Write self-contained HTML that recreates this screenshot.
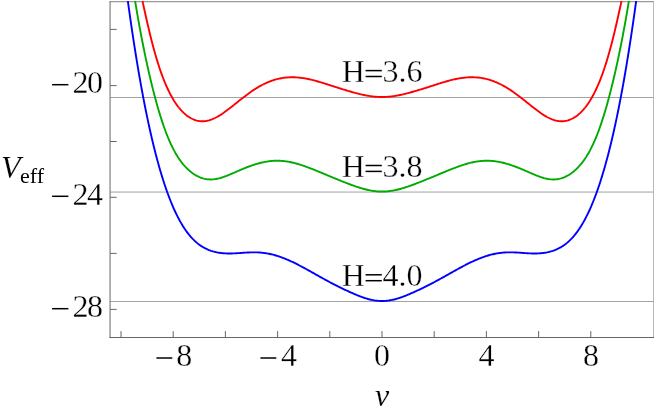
<!DOCTYPE html>
<html><head><meta charset="utf-8"><title>Veff</title>
<style>
html,body{margin:0;padding:0;background:#fff;}
body{width:654px;height:414px;overflow:hidden;position:relative;font-family:"Liberation Serif",serif;}
svg{position:absolute;left:0;top:0;will-change:transform;}
text{font-family:"Liberation Serif",serif;fill:#000;stroke:#fff;stroke-width:0.3px;}
</style></head><body>
<svg width="654" height="414" viewBox="0 0 654 414">
<defs><clipPath id="c"><rect x="110" y="1" width="544" height="337"/></clipPath></defs>
<g stroke="#a3a3a3" stroke-width="1" fill="none">
<line x1="110.05" y1="97.5" x2="654" y2="97.5"/>
<line x1="110.05" y1="192.05" x2="654" y2="192.05"/>
<line x1="110.05" y1="301.5" x2="654" y2="301.5"/>
</g>
<g stroke="#999" stroke-width="1.2" fill="none">
<line x1="110.05" y1="1.6" x2="654" y2="1.6"/>
</g>
<line x1="653.6" y1="1.6" x2="653.6" y2="337.5" stroke="#b2b2b2" stroke-width="1" fill="none"/>
<g clip-path="url(#c)" fill="none" stroke-width="1.9" stroke-linejoin="round">
<path stroke="#ff0000" d="M139.0,-15.20 L140.0,-10.57 L141.0,-5.91 L142.0,-1.25 L143.0,3.39 L144.0,8.00 L145.0,12.56 L146.0,17.06 L147.0,21.48 L148.0,25.82 L149.0,30.07 L150.0,34.22 L151.0,38.27 L152.0,42.20 L153.0,46.02 L154.0,49.72 L155.0,53.31 L156.0,56.77 L157.0,60.12 L158.0,63.34 L159.0,66.45 L160.0,69.44 L161.0,72.32 L162.0,75.09 L163.0,77.75 L164.0,80.31 L165.0,82.76 L166.0,85.11 L167.0,87.37 L168.0,89.52 L169.0,91.59 L170.0,93.57 L171.0,95.46 L172.0,97.27 L173.0,98.99 L174.0,100.64 L175.0,102.20 L176.0,103.69 L177.0,105.11 L178.0,106.46 L179.0,107.74 L180.0,108.95 L181.0,110.09 L182.0,111.17 L183.0,112.19 L184.0,113.14 L185.0,114.04 L186.0,114.88 L187.0,115.66 L188.0,116.39 L189.0,117.06 L190.0,117.68 L191.0,118.25 L192.0,118.76 L193.0,119.23 L194.0,119.64 L195.0,120.01 L196.0,120.32 L197.0,120.59 L198.0,120.82 L199.0,120.99 L200.0,121.12 L201.0,121.20 L202.0,121.24 L203.0,121.24 L204.0,121.19 L205.0,121.10 L206.0,120.96 L207.0,120.79 L208.0,120.57 L209.0,120.32 L210.0,120.02 L211.0,119.69 L212.0,119.32 L213.0,118.92 L214.0,118.48 L215.0,118.01 L216.0,117.51 L217.0,116.98 L218.0,116.42 L219.0,115.83 L220.0,115.22 L221.0,114.59 L222.0,113.93 L223.0,113.25 L224.0,112.55 L225.0,111.83 L226.0,111.10 L227.0,110.36 L228.0,109.60 L229.0,108.83 L230.0,108.05 L231.0,107.27 L232.0,106.47 L233.0,105.67 L234.0,104.87 L235.0,104.07 L236.0,103.26 L237.0,102.46 L238.0,101.66 L239.0,100.85 L240.0,100.06 L241.0,99.26 L242.0,98.48 L243.0,97.69 L244.0,96.92 L245.0,96.16 L246.0,95.40 L247.0,94.65 L248.0,93.92 L249.0,93.19 L250.0,92.48 L251.0,91.78 L252.0,91.09 L253.0,90.41 L254.0,89.75 L255.0,89.11 L256.0,88.48 L257.0,87.86 L258.0,87.26 L259.0,86.68 L260.0,86.11 L261.0,85.56 L262.0,85.03 L263.0,84.51 L264.0,84.01 L265.0,83.53 L266.0,83.06 L267.0,82.62 L268.0,82.19 L269.0,81.78 L270.0,81.39 L271.0,81.01 L272.0,80.66 L273.0,80.32 L274.0,80.00 L275.0,79.70 L276.0,79.41 L277.0,79.15 L278.0,78.90 L279.0,78.67 L280.0,78.46 L281.0,78.26 L282.0,78.09 L283.0,77.93 L284.0,77.79 L285.0,77.66 L286.0,77.55 L287.0,77.46 L288.0,77.39 L289.0,77.33 L290.0,77.29 L291.0,77.26 L292.0,77.25 L293.0,77.25 L294.0,77.27 L295.0,77.31 L296.0,77.36 L297.0,77.42 L298.0,77.50 L299.0,77.60 L300.0,77.70 L301.0,77.82 L302.0,77.96 L303.0,78.10 L304.0,78.26 L305.0,78.43 L306.0,78.61 L307.0,78.80 L308.0,79.00 L309.0,79.22 L310.0,79.44 L311.0,79.67 L312.0,79.91 L313.0,80.16 L314.0,80.42 L315.0,80.68 L316.0,80.96 L317.0,81.23 L318.0,81.52 L319.0,81.81 L320.0,82.10 L321.0,82.40 L322.0,82.70 L323.0,83.01 L324.0,83.32 L325.0,83.63 L326.0,83.95 L327.0,84.27 L328.0,84.58 L329.0,84.90 L330.0,85.23 L331.0,85.55 L332.0,85.87 L333.0,86.19 L334.0,86.51 L335.0,86.83 L336.0,87.15 L337.0,87.47 L338.0,87.78 L339.0,88.10 L340.0,88.41 L341.0,88.73 L342.0,89.04 L343.0,89.34 L344.0,89.65 L345.0,89.96 L346.0,90.26 L347.0,90.56 L348.0,90.85 L349.0,91.15 L350.0,91.44 L351.0,91.72 L352.0,92.01 L353.0,92.29 L354.0,92.56 L355.0,92.83 L356.0,93.10 L357.0,93.36 L358.0,93.61 L359.0,93.86 L360.0,94.11 L361.0,94.34 L362.0,94.57 L363.0,94.79 L364.0,95.01 L365.0,95.21 L366.0,95.41 L367.0,95.59 L368.0,95.77 L369.0,95.93 L370.0,96.09 L371.0,96.23 L372.0,96.37 L373.0,96.49 L374.0,96.59 L375.0,96.69 L376.0,96.78 L377.0,96.85 L378.0,96.91 L379.0,96.95 L380.0,96.98 L381.0,97.00 L382.0,97.01 L383.0,97.00 L384.0,96.98 L385.0,96.95 L386.0,96.91 L387.0,96.85 L388.0,96.78 L389.0,96.69 L390.0,96.59 L391.0,96.49 L392.0,96.37 L393.0,96.23 L394.0,96.09 L395.0,95.93 L396.0,95.77 L397.0,95.59 L398.0,95.41 L399.0,95.21 L400.0,95.01 L401.0,94.79 L402.0,94.57 L403.0,94.34 L404.0,94.11 L405.0,93.86 L406.0,93.61 L407.0,93.36 L408.0,93.10 L409.0,92.83 L410.0,92.56 L411.0,92.29 L412.0,92.01 L413.0,91.72 L414.0,91.44 L415.0,91.15 L416.0,90.85 L417.0,90.56 L418.0,90.26 L419.0,89.96 L420.0,89.65 L421.0,89.34 L422.0,89.04 L423.0,88.73 L424.0,88.41 L425.0,88.10 L426.0,87.78 L427.0,87.47 L428.0,87.15 L429.0,86.83 L430.0,86.51 L431.0,86.19 L432.0,85.87 L433.0,85.55 L434.0,85.23 L435.0,84.90 L436.0,84.58 L437.0,84.27 L438.0,83.95 L439.0,83.63 L440.0,83.32 L441.0,83.01 L442.0,82.70 L443.0,82.40 L444.0,82.10 L445.0,81.81 L446.0,81.52 L447.0,81.23 L448.0,80.96 L449.0,80.68 L450.0,80.42 L451.0,80.16 L452.0,79.91 L453.0,79.67 L454.0,79.44 L455.0,79.22 L456.0,79.00 L457.0,78.80 L458.0,78.61 L459.0,78.43 L460.0,78.26 L461.0,78.10 L462.0,77.96 L463.0,77.82 L464.0,77.70 L465.0,77.60 L466.0,77.50 L467.0,77.42 L468.0,77.36 L469.0,77.31 L470.0,77.27 L471.0,77.25 L472.0,77.25 L473.0,77.26 L474.0,77.29 L475.0,77.33 L476.0,77.39 L477.0,77.46 L478.0,77.55 L479.0,77.66 L480.0,77.79 L481.0,77.93 L482.0,78.09 L483.0,78.26 L484.0,78.46 L485.0,78.67 L486.0,78.90 L487.0,79.15 L488.0,79.41 L489.0,79.70 L490.0,80.00 L491.0,80.32 L492.0,80.66 L493.0,81.01 L494.0,81.39 L495.0,81.78 L496.0,82.19 L497.0,82.62 L498.0,83.06 L499.0,83.53 L500.0,84.01 L501.0,84.51 L502.0,85.03 L503.0,85.56 L504.0,86.11 L505.0,86.68 L506.0,87.26 L507.0,87.86 L508.0,88.48 L509.0,89.11 L510.0,89.75 L511.0,90.41 L512.0,91.09 L513.0,91.78 L514.0,92.48 L515.0,93.19 L516.0,93.92 L517.0,94.65 L518.0,95.40 L519.0,96.16 L520.0,96.92 L521.0,97.69 L522.0,98.48 L523.0,99.26 L524.0,100.06 L525.0,100.85 L526.0,101.66 L527.0,102.46 L528.0,103.26 L529.0,104.07 L530.0,104.87 L531.0,105.67 L532.0,106.47 L533.0,107.27 L534.0,108.05 L535.0,108.83 L536.0,109.60 L537.0,110.36 L538.0,111.10 L539.0,111.83 L540.0,112.55 L541.0,113.25 L542.0,113.93 L543.0,114.59 L544.0,115.22 L545.0,115.83 L546.0,116.42 L547.0,116.98 L548.0,117.51 L549.0,118.01 L550.0,118.48 L551.0,118.92 L552.0,119.32 L553.0,119.69 L554.0,120.02 L555.0,120.32 L556.0,120.57 L557.0,120.79 L558.0,120.96 L559.0,121.10 L560.0,121.19 L561.0,121.24 L562.0,121.24 L563.0,121.20 L564.0,121.12 L565.0,120.99 L566.0,120.82 L567.0,120.59 L568.0,120.32 L569.0,120.01 L570.0,119.64 L571.0,119.23 L572.0,118.76 L573.0,118.25 L574.0,117.68 L575.0,117.06 L576.0,116.39 L577.0,115.66 L578.0,114.88 L579.0,114.04 L580.0,113.14 L581.0,112.19 L582.0,111.17 L583.0,110.09 L584.0,108.95 L585.0,107.74 L586.0,106.46 L587.0,105.11 L588.0,103.69 L589.0,102.20 L590.0,100.64 L591.0,98.99 L592.0,97.27 L593.0,95.46 L594.0,93.57 L595.0,91.59 L596.0,89.52 L597.0,87.37 L598.0,85.11 L599.0,82.76 L600.0,80.31 L601.0,77.75 L602.0,75.09 L603.0,72.32 L604.0,69.44 L605.0,66.45 L606.0,63.34 L607.0,60.12 L608.0,56.77 L609.0,53.31 L610.0,49.72 L611.0,46.02 L612.0,42.20 L613.0,38.27 L614.0,34.22 L615.0,30.07 L616.0,25.82 L617.0,21.48 L618.0,17.06 L619.0,12.56 L620.0,8.00 L621.0,3.39 L622.0,-1.25 L623.0,-5.91 L624.0,-10.57 L625.0,-15.20"/>
<path stroke="#00aa00" d="M132.0,-18.95 L133.0,-12.31 L134.0,-5.86 L135.0,0.39 L136.0,6.46 L137.0,12.37 L138.0,18.12 L139.0,23.72 L140.0,29.18 L141.0,34.51 L142.0,39.71 L143.0,44.79 L144.0,49.75 L145.0,54.61 L146.0,59.35 L147.0,63.98 L148.0,68.51 L149.0,72.94 L150.0,77.26 L151.0,81.48 L152.0,85.60 L153.0,89.62 L154.0,93.54 L155.0,97.36 L156.0,101.07 L157.0,104.68 L158.0,108.18 L159.0,111.59 L160.0,114.88 L161.0,118.07 L162.0,121.16 L163.0,124.14 L164.0,127.02 L165.0,129.80 L166.0,132.47 L167.0,135.04 L168.0,137.51 L169.0,139.88 L170.0,142.15 L171.0,144.34 L172.0,146.42 L173.0,148.42 L174.0,150.34 L175.0,152.16 L176.0,153.91 L177.0,155.58 L178.0,157.17 L179.0,158.68 L180.0,160.13 L181.0,161.50 L182.0,162.81 L183.0,164.06 L184.0,165.24 L185.0,166.37 L186.0,167.44 L187.0,168.46 L188.0,169.42 L189.0,170.33 L190.0,171.20 L191.0,172.01 L192.0,172.78 L193.0,173.51 L194.0,174.18 L195.0,174.82 L196.0,175.41 L197.0,175.96 L198.0,176.47 L199.0,176.93 L200.0,177.36 L201.0,177.74 L202.0,178.08 L203.0,178.39 L204.0,178.65 L205.0,178.88 L206.0,179.06 L207.0,179.21 L208.0,179.32 L209.0,179.40 L210.0,179.44 L211.0,179.44 L212.0,179.41 L213.0,179.34 L214.0,179.25 L215.0,179.12 L216.0,178.96 L217.0,178.77 L218.0,178.56 L219.0,178.32 L220.0,178.06 L221.0,177.77 L222.0,177.47 L223.0,177.14 L224.0,176.80 L225.0,176.44 L226.0,176.07 L227.0,175.68 L228.0,175.29 L229.0,174.88 L230.0,174.46 L231.0,174.04 L232.0,173.61 L233.0,173.18 L234.0,172.75 L235.0,172.31 L236.0,171.87 L237.0,171.44 L238.0,171.00 L239.0,170.57 L240.0,170.14 L241.0,169.71 L242.0,169.29 L243.0,168.87 L244.0,168.46 L245.0,168.05 L246.0,167.65 L247.0,167.26 L248.0,166.88 L249.0,166.50 L250.0,166.13 L251.0,165.78 L252.0,165.43 L253.0,165.09 L254.0,164.76 L255.0,164.44 L256.0,164.14 L257.0,163.84 L258.0,163.56 L259.0,163.29 L260.0,163.02 L261.0,162.78 L262.0,162.54 L263.0,162.32 L264.0,162.11 L265.0,161.92 L266.0,161.74 L267.0,161.57 L268.0,161.42 L269.0,161.28 L270.0,161.16 L271.0,161.05 L272.0,160.96 L273.0,160.88 L274.0,160.82 L275.0,160.78 L276.0,160.75 L277.0,160.74 L278.0,160.75 L279.0,160.77 L280.0,160.80 L281.0,160.86 L282.0,160.93 L283.0,161.01 L284.0,161.11 L285.0,161.23 L286.0,161.36 L287.0,161.51 L288.0,161.67 L289.0,161.85 L290.0,162.04 L291.0,162.25 L292.0,162.47 L293.0,162.70 L294.0,162.94 L295.0,163.20 L296.0,163.46 L297.0,163.74 L298.0,164.03 L299.0,164.33 L300.0,164.64 L301.0,164.96 L302.0,165.29 L303.0,165.62 L304.0,165.97 L305.0,166.32 L306.0,166.68 L307.0,167.04 L308.0,167.41 L309.0,167.79 L310.0,168.17 L311.0,168.55 L312.0,168.94 L313.0,169.33 L314.0,169.73 L315.0,170.13 L316.0,170.54 L317.0,170.94 L318.0,171.35 L319.0,171.76 L320.0,172.17 L321.0,172.59 L322.0,173.00 L323.0,173.42 L324.0,173.83 L325.0,174.25 L326.0,174.67 L327.0,175.09 L328.0,175.51 L329.0,175.92 L330.0,176.34 L331.0,176.76 L332.0,177.18 L333.0,177.59 L334.0,178.01 L335.0,178.42 L336.0,178.83 L337.0,179.24 L338.0,179.65 L339.0,180.06 L340.0,180.46 L341.0,180.87 L342.0,181.27 L343.0,181.67 L344.0,182.06 L345.0,182.46 L346.0,182.85 L347.0,183.23 L348.0,183.62 L349.0,184.00 L350.0,184.37 L351.0,184.75 L352.0,185.11 L353.0,185.48 L354.0,185.83 L355.0,186.18 L356.0,186.53 L357.0,186.86 L358.0,187.19 L359.0,187.52 L360.0,187.83 L361.0,188.14 L362.0,188.43 L363.0,188.72 L364.0,188.99 L365.0,189.25 L366.0,189.50 L367.0,189.74 L368.0,189.97 L369.0,190.18 L370.0,190.38 L371.0,190.57 L372.0,190.74 L373.0,190.89 L374.0,191.03 L375.0,191.15 L376.0,191.26 L377.0,191.35 L378.0,191.43 L379.0,191.49 L380.0,191.53 L381.0,191.55 L382.0,191.56 L383.0,191.55 L384.0,191.53 L385.0,191.49 L386.0,191.43 L387.0,191.35 L388.0,191.26 L389.0,191.15 L390.0,191.03 L391.0,190.89 L392.0,190.74 L393.0,190.57 L394.0,190.38 L395.0,190.18 L396.0,189.97 L397.0,189.74 L398.0,189.50 L399.0,189.25 L400.0,188.99 L401.0,188.72 L402.0,188.43 L403.0,188.14 L404.0,187.83 L405.0,187.52 L406.0,187.19 L407.0,186.86 L408.0,186.53 L409.0,186.18 L410.0,185.83 L411.0,185.48 L412.0,185.11 L413.0,184.75 L414.0,184.37 L415.0,184.00 L416.0,183.62 L417.0,183.23 L418.0,182.85 L419.0,182.46 L420.0,182.06 L421.0,181.67 L422.0,181.27 L423.0,180.87 L424.0,180.46 L425.0,180.06 L426.0,179.65 L427.0,179.24 L428.0,178.83 L429.0,178.42 L430.0,178.01 L431.0,177.59 L432.0,177.18 L433.0,176.76 L434.0,176.34 L435.0,175.92 L436.0,175.51 L437.0,175.09 L438.0,174.67 L439.0,174.25 L440.0,173.83 L441.0,173.42 L442.0,173.00 L443.0,172.59 L444.0,172.17 L445.0,171.76 L446.0,171.35 L447.0,170.94 L448.0,170.54 L449.0,170.13 L450.0,169.73 L451.0,169.33 L452.0,168.94 L453.0,168.55 L454.0,168.17 L455.0,167.79 L456.0,167.41 L457.0,167.04 L458.0,166.68 L459.0,166.32 L460.0,165.97 L461.0,165.62 L462.0,165.29 L463.0,164.96 L464.0,164.64 L465.0,164.33 L466.0,164.03 L467.0,163.74 L468.0,163.46 L469.0,163.20 L470.0,162.94 L471.0,162.70 L472.0,162.47 L473.0,162.25 L474.0,162.04 L475.0,161.85 L476.0,161.67 L477.0,161.51 L478.0,161.36 L479.0,161.23 L480.0,161.11 L481.0,161.01 L482.0,160.93 L483.0,160.86 L484.0,160.80 L485.0,160.77 L486.0,160.75 L487.0,160.74 L488.0,160.75 L489.0,160.78 L490.0,160.82 L491.0,160.88 L492.0,160.96 L493.0,161.05 L494.0,161.16 L495.0,161.28 L496.0,161.42 L497.0,161.57 L498.0,161.74 L499.0,161.92 L500.0,162.11 L501.0,162.32 L502.0,162.54 L503.0,162.78 L504.0,163.02 L505.0,163.29 L506.0,163.56 L507.0,163.84 L508.0,164.14 L509.0,164.44 L510.0,164.76 L511.0,165.09 L512.0,165.43 L513.0,165.78 L514.0,166.13 L515.0,166.50 L516.0,166.88 L517.0,167.26 L518.0,167.65 L519.0,168.05 L520.0,168.46 L521.0,168.87 L522.0,169.29 L523.0,169.71 L524.0,170.14 L525.0,170.57 L526.0,171.00 L527.0,171.44 L528.0,171.87 L529.0,172.31 L530.0,172.75 L531.0,173.18 L532.0,173.61 L533.0,174.04 L534.0,174.46 L535.0,174.88 L536.0,175.29 L537.0,175.68 L538.0,176.07 L539.0,176.44 L540.0,176.80 L541.0,177.14 L542.0,177.47 L543.0,177.77 L544.0,178.06 L545.0,178.32 L546.0,178.56 L547.0,178.77 L548.0,178.96 L549.0,179.12 L550.0,179.25 L551.0,179.34 L552.0,179.41 L553.0,179.44 L554.0,179.44 L555.0,179.40 L556.0,179.32 L557.0,179.21 L558.0,179.06 L559.0,178.88 L560.0,178.65 L561.0,178.39 L562.0,178.08 L563.0,177.74 L564.0,177.36 L565.0,176.93 L566.0,176.47 L567.0,175.96 L568.0,175.41 L569.0,174.82 L570.0,174.18 L571.0,173.51 L572.0,172.78 L573.0,172.01 L574.0,171.20 L575.0,170.33 L576.0,169.42 L577.0,168.46 L578.0,167.44 L579.0,166.37 L580.0,165.24 L581.0,164.06 L582.0,162.81 L583.0,161.50 L584.0,160.13 L585.0,158.68 L586.0,157.17 L587.0,155.58 L588.0,153.91 L589.0,152.16 L590.0,150.34 L591.0,148.42 L592.0,146.42 L593.0,144.34 L594.0,142.15 L595.0,139.88 L596.0,137.51 L597.0,135.04 L598.0,132.47 L599.0,129.80 L600.0,127.02 L601.0,124.14 L602.0,121.16 L603.0,118.07 L604.0,114.88 L605.0,111.59 L606.0,108.18 L607.0,104.68 L608.0,101.07 L609.0,97.36 L610.0,93.54 L611.0,89.62 L612.0,85.60 L613.0,81.48 L614.0,77.26 L615.0,72.94 L616.0,68.51 L617.0,63.98 L618.0,59.35 L619.0,54.61 L620.0,49.75 L621.0,44.79 L622.0,39.71 L623.0,34.51 L624.0,29.18 L625.0,23.72 L626.0,18.12 L627.0,12.37 L628.0,6.46 L629.0,0.39 L630.0,-5.86 L631.0,-12.31 L632.0,-18.95"/>
<path stroke="#0000ff" d="M126.0,-12.86 L127.0,-5.31 L128.0,2.08 L129.0,9.32 L130.0,16.41 L131.0,23.37 L132.0,30.18 L133.0,36.84 L134.0,43.37 L135.0,49.76 L136.0,56.02 L137.0,62.14 L138.0,68.13 L139.0,73.98 L140.0,79.71 L141.0,85.31 L142.0,90.79 L143.0,96.14 L144.0,101.37 L145.0,106.47 L146.0,111.46 L147.0,116.33 L148.0,121.09 L149.0,125.73 L150.0,130.26 L151.0,134.67 L152.0,138.98 L153.0,143.18 L154.0,147.27 L155.0,151.26 L156.0,155.14 L157.0,158.93 L158.0,162.61 L159.0,166.19 L160.0,169.68 L161.0,173.07 L162.0,176.37 L163.0,179.57 L164.0,182.68 L165.0,185.70 L166.0,188.63 L167.0,191.48 L168.0,194.24 L169.0,196.91 L170.0,199.50 L171.0,202.01 L172.0,204.44 L173.0,206.78 L174.0,209.05 L175.0,211.25 L176.0,213.37 L177.0,215.41 L178.0,217.38 L179.0,219.28 L180.0,221.11 L181.0,222.88 L182.0,224.57 L183.0,226.20 L184.0,227.76 L185.0,229.26 L186.0,230.70 L187.0,232.08 L188.0,233.40 L189.0,234.67 L190.0,235.87 L191.0,237.02 L192.0,238.12 L193.0,239.17 L194.0,240.17 L195.0,241.11 L196.0,242.01 L197.0,242.87 L198.0,243.68 L199.0,244.45 L200.0,245.17 L201.0,245.86 L202.0,246.50 L203.0,247.11 L204.0,247.68 L205.0,248.22 L206.0,248.73 L207.0,249.20 L208.0,249.64 L209.0,250.05 L210.0,250.43 L211.0,250.79 L212.0,251.11 L213.0,251.42 L214.0,251.69 L215.0,251.95 L216.0,252.18 L217.0,252.39 L218.0,252.57 L219.0,252.74 L220.0,252.89 L221.0,253.02 L222.0,253.13 L223.0,253.23 L224.0,253.31 L225.0,253.37 L226.0,253.42 L227.0,253.45 L228.0,253.47 L229.0,253.48 L230.0,253.48 L231.0,253.47 L232.0,253.45 L233.0,253.41 L234.0,253.37 L235.0,253.33 L236.0,253.27 L237.0,253.21 L238.0,253.15 L239.0,253.09 L240.0,253.02 L241.0,252.95 L242.0,252.88 L243.0,252.81 L244.0,252.74 L245.0,252.67 L246.0,252.61 L247.0,252.55 L248.0,252.50 L249.0,252.45 L250.0,252.41 L251.0,252.38 L252.0,252.35 L253.0,252.34 L254.0,252.33 L255.0,252.34 L256.0,252.36 L257.0,252.38 L258.0,252.42 L259.0,252.48 L260.0,252.54 L261.0,252.62 L262.0,252.72 L263.0,252.83 L264.0,252.95 L265.0,253.08 L266.0,253.23 L267.0,253.40 L268.0,253.58 L269.0,253.77 L270.0,253.98 L271.0,254.20 L272.0,254.43 L273.0,254.68 L274.0,254.95 L275.0,255.22 L276.0,255.52 L277.0,255.82 L278.0,256.14 L279.0,256.46 L280.0,256.81 L281.0,257.16 L282.0,257.52 L283.0,257.90 L284.0,258.29 L285.0,258.69 L286.0,259.10 L287.0,259.51 L288.0,259.94 L289.0,260.38 L290.0,260.83 L291.0,261.29 L292.0,261.75 L293.0,262.22 L294.0,262.71 L295.0,263.19 L296.0,263.69 L297.0,264.19 L298.0,264.70 L299.0,265.22 L300.0,265.74 L301.0,266.27 L302.0,266.80 L303.0,267.33 L304.0,267.87 L305.0,268.42 L306.0,268.97 L307.0,269.52 L308.0,270.07 L309.0,270.63 L310.0,271.19 L311.0,271.75 L312.0,272.31 L313.0,272.87 L314.0,273.44 L315.0,274.00 L316.0,274.57 L317.0,275.13 L318.0,275.69 L319.0,276.25 L320.0,276.81 L321.0,277.37 L322.0,277.93 L323.0,278.48 L324.0,279.03 L325.0,279.58 L326.0,280.13 L327.0,280.67 L328.0,281.21 L329.0,281.74 L330.0,282.27 L331.0,282.80 L332.0,283.33 L333.0,283.85 L334.0,284.36 L335.0,284.87 L336.0,285.38 L337.0,285.88 L338.0,286.38 L339.0,286.88 L340.0,287.37 L341.0,287.86 L342.0,288.34 L343.0,288.83 L344.0,289.30 L345.0,289.78 L346.0,290.24 L347.0,290.71 L348.0,291.17 L349.0,291.63 L350.0,292.08 L351.0,292.53 L352.0,292.97 L353.0,293.41 L354.0,293.84 L355.0,294.27 L356.0,294.69 L357.0,295.10 L358.0,295.51 L359.0,295.91 L360.0,296.29 L361.0,296.67 L362.0,297.04 L363.0,297.39 L364.0,297.74 L365.0,298.06 L366.0,298.38 L367.0,298.68 L368.0,298.97 L369.0,299.23 L370.0,299.49 L371.0,299.72 L372.0,299.93 L373.0,300.13 L374.0,300.31 L375.0,300.47 L376.0,300.60 L377.0,300.72 L378.0,300.82 L379.0,300.89 L380.0,300.94 L381.0,300.98 L382.0,300.99 L383.0,300.98 L384.0,300.94 L385.0,300.89 L386.0,300.82 L387.0,300.72 L388.0,300.60 L389.0,300.47 L390.0,300.31 L391.0,300.13 L392.0,299.93 L393.0,299.72 L394.0,299.49 L395.0,299.23 L396.0,298.97 L397.0,298.68 L398.0,298.38 L399.0,298.06 L400.0,297.74 L401.0,297.39 L402.0,297.04 L403.0,296.67 L404.0,296.29 L405.0,295.91 L406.0,295.51 L407.0,295.10 L408.0,294.69 L409.0,294.27 L410.0,293.84 L411.0,293.41 L412.0,292.97 L413.0,292.53 L414.0,292.08 L415.0,291.63 L416.0,291.17 L417.0,290.71 L418.0,290.24 L419.0,289.78 L420.0,289.30 L421.0,288.83 L422.0,288.34 L423.0,287.86 L424.0,287.37 L425.0,286.88 L426.0,286.38 L427.0,285.88 L428.0,285.38 L429.0,284.87 L430.0,284.36 L431.0,283.85 L432.0,283.33 L433.0,282.80 L434.0,282.27 L435.0,281.74 L436.0,281.21 L437.0,280.67 L438.0,280.13 L439.0,279.58 L440.0,279.03 L441.0,278.48 L442.0,277.93 L443.0,277.37 L444.0,276.81 L445.0,276.25 L446.0,275.69 L447.0,275.13 L448.0,274.57 L449.0,274.00 L450.0,273.44 L451.0,272.87 L452.0,272.31 L453.0,271.75 L454.0,271.19 L455.0,270.63 L456.0,270.07 L457.0,269.52 L458.0,268.97 L459.0,268.42 L460.0,267.87 L461.0,267.33 L462.0,266.80 L463.0,266.27 L464.0,265.74 L465.0,265.22 L466.0,264.70 L467.0,264.19 L468.0,263.69 L469.0,263.19 L470.0,262.71 L471.0,262.22 L472.0,261.75 L473.0,261.29 L474.0,260.83 L475.0,260.38 L476.0,259.94 L477.0,259.51 L478.0,259.10 L479.0,258.69 L480.0,258.29 L481.0,257.90 L482.0,257.52 L483.0,257.16 L484.0,256.81 L485.0,256.46 L486.0,256.14 L487.0,255.82 L488.0,255.52 L489.0,255.22 L490.0,254.95 L491.0,254.68 L492.0,254.43 L493.0,254.20 L494.0,253.98 L495.0,253.77 L496.0,253.58 L497.0,253.40 L498.0,253.23 L499.0,253.08 L500.0,252.95 L501.0,252.83 L502.0,252.72 L503.0,252.62 L504.0,252.54 L505.0,252.48 L506.0,252.42 L507.0,252.38 L508.0,252.36 L509.0,252.34 L510.0,252.33 L511.0,252.34 L512.0,252.35 L513.0,252.38 L514.0,252.41 L515.0,252.45 L516.0,252.50 L517.0,252.55 L518.0,252.61 L519.0,252.67 L520.0,252.74 L521.0,252.81 L522.0,252.88 L523.0,252.95 L524.0,253.02 L525.0,253.09 L526.0,253.15 L527.0,253.21 L528.0,253.27 L529.0,253.33 L530.0,253.37 L531.0,253.41 L532.0,253.45 L533.0,253.47 L534.0,253.48 L535.0,253.48 L536.0,253.47 L537.0,253.45 L538.0,253.42 L539.0,253.37 L540.0,253.31 L541.0,253.23 L542.0,253.13 L543.0,253.02 L544.0,252.89 L545.0,252.74 L546.0,252.57 L547.0,252.39 L548.0,252.18 L549.0,251.95 L550.0,251.69 L551.0,251.42 L552.0,251.11 L553.0,250.79 L554.0,250.43 L555.0,250.05 L556.0,249.64 L557.0,249.20 L558.0,248.73 L559.0,248.22 L560.0,247.68 L561.0,247.11 L562.0,246.50 L563.0,245.86 L564.0,245.17 L565.0,244.45 L566.0,243.68 L567.0,242.87 L568.0,242.01 L569.0,241.11 L570.0,240.17 L571.0,239.17 L572.0,238.12 L573.0,237.02 L574.0,235.87 L575.0,234.67 L576.0,233.40 L577.0,232.08 L578.0,230.70 L579.0,229.26 L580.0,227.76 L581.0,226.20 L582.0,224.57 L583.0,222.88 L584.0,221.11 L585.0,219.28 L586.0,217.38 L587.0,215.41 L588.0,213.37 L589.0,211.25 L590.0,209.05 L591.0,206.78 L592.0,204.44 L593.0,202.01 L594.0,199.50 L595.0,196.91 L596.0,194.24 L597.0,191.48 L598.0,188.63 L599.0,185.70 L600.0,182.68 L601.0,179.57 L602.0,176.37 L603.0,173.07 L604.0,169.68 L605.0,166.19 L606.0,162.61 L607.0,158.93 L608.0,155.14 L609.0,151.26 L610.0,147.27 L611.0,143.18 L612.0,138.98 L613.0,134.67 L614.0,130.26 L615.0,125.73 L616.0,121.09 L617.0,116.33 L618.0,111.46 L619.0,106.47 L620.0,101.37 L621.0,96.14 L622.0,90.79 L623.0,85.31 L624.0,79.71 L625.0,73.98 L626.0,68.13 L627.0,62.14 L628.0,56.02 L629.0,49.76 L630.0,43.37 L631.0,36.84 L632.0,30.18 L633.0,23.37 L634.0,16.41 L635.0,9.32 L636.0,2.08 L637.0,-5.31 L638.0,-12.86"/>
</g>
<g stroke="#666" stroke-width="1" fill="none">
<line x1="110.05" y1="1.1" x2="110.05" y2="338.0"/>
<line x1="109.55" y1="337.5" x2="654" y2="337.5"/>
<line x1="110.05" y1="29.4" x2="116.64999999999999" y2="29.4"/><line x1="110.05" y1="85.6" x2="116.64999999999999" y2="85.6"/><line x1="110.05" y1="141.5" x2="116.64999999999999" y2="141.5"/><line x1="110.05" y1="197.3" x2="116.64999999999999" y2="197.3"/><line x1="110.05" y1="253.4" x2="116.64999999999999" y2="253.4"/><line x1="110.05" y1="309.4" x2="116.64999999999999" y2="309.4"/><line x1="121.0" y1="337.5" x2="121.0" y2="331.1"/><line x1="173.2" y1="337.5" x2="173.2" y2="331.1"/><line x1="225.4" y1="337.5" x2="225.4" y2="331.1"/><line x1="277.6" y1="337.5" x2="277.6" y2="331.1"/><line x1="329.8" y1="337.5" x2="329.8" y2="331.1"/><line x1="382.0" y1="337.5" x2="382.0" y2="331.1"/><line x1="434.2" y1="337.5" x2="434.2" y2="331.1"/><line x1="486.4" y1="337.5" x2="486.4" y2="331.1"/><line x1="538.6" y1="337.5" x2="538.6" y2="331.1"/><line x1="590.8" y1="337.5" x2="590.8" y2="331.1"/>
</g>
<g stroke="#000" stroke-width="1.5" fill="none">
<line x1="52.1" y1="84.7" x2="68.4" y2="84.7"/>
<line x1="52.1" y1="196.3" x2="68.4" y2="196.3"/>
<line x1="52.1" y1="308.7" x2="68.4" y2="308.7"/>
<line x1="156.4" y1="358.0" x2="172.3" y2="358.0"/>
<line x1="260.4" y1="358.0" x2="276.3" y2="358.0"/>
<line x1="365.6" y1="70.6" x2="381.8" y2="70.6"/>
<line x1="365.6" y1="76.5" x2="381.8" y2="76.5"/>
<line x1="365.6" y1="165.5" x2="381.8" y2="165.5"/>
<line x1="365.6" y1="171.4" x2="381.8" y2="171.4"/>
<line x1="365.6" y1="274.8" x2="381.8" y2="274.8"/>
<line x1="365.6" y1="280.7" x2="381.8" y2="280.7"/>
</g>
<g font-size="32px">
<text x="72.6" y="93.0">2</text>
<text x="87.0" y="93.0">0</text>
<text x="72.6" y="204.6">2</text>
<text x="87.0" y="204.6">4</text>
<text x="72.6" y="317.0">2</text>
<text x="87.0" y="317.0">8</text>
<text x="176.2" y="366.2">8</text>
<text x="281.0" y="366.2">4</text>
<text x="374.0" y="366.2">0</text>
<text x="478.6" y="366.2">4</text>
<text x="583.0" y="366.2">8</text>
<text x="341.7" y="81.8">H</text>
<text x="382.6" y="81.8">3.6</text>
<text x="341.7" y="176.7">H</text>
<text x="382.6" y="176.7">3.8</text>
<text x="341.7" y="286.0">H</text>
<text x="382.6" y="286.0">4.0</text>
<text x="375.0" y="405.5" font-style="italic" style="stroke-width:0.15px">v</text>
<text x="1.0" y="178.4" font-style="italic" style="stroke-width:0.15px">V</text>
<text x="20.0" y="182.7" font-size="22px" style="stroke:none">eff</text>
</g>
</svg>
</body></html>
